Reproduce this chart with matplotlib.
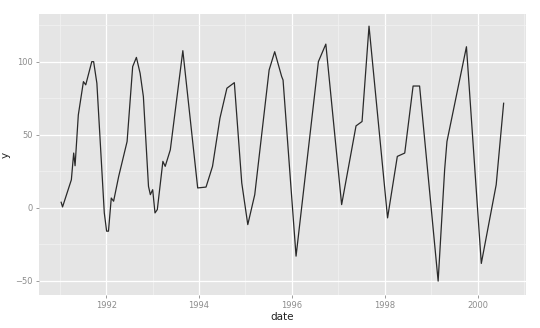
import matplotlib
matplotlib.use("Agg")
import matplotlib.pyplot as plt
import matplotlib.dates as mdates
import pandas as pd

# decimal years
years = [1991.03, 1991.06, 1991.25, 1991.30, 1991.33, 1991.40, 1991.51, 1991.56,
         1991.69, 1991.73, 1991.80, 1991.96, 1992.01, 1992.05, 1992.11, 1992.16,
         1992.27, 1992.45, 1992.57, 1992.65, 1992.73, 1992.80, 1992.91, 1992.95,
         1993.00, 1993.05, 1993.10, 1993.22, 1993.27, 1993.38, 1993.65, 1993.97,
         1994.15, 1994.29, 1994.45, 1994.60, 1994.76, 1994.92, 1995.05, 1995.20,
         1995.51, 1995.63, 1995.78, 1995.81, 1996.09, 1996.57, 1996.73, 1997.07,
         1997.38, 1997.51, 1997.66, 1998.06, 1998.27, 1998.43, 1998.61, 1998.75,
         1999.15, 1999.29, 1999.34, 1999.76, 2000.08, 2000.40, 2000.56]
y = [3.9, 0.7, 19.3, 37.6, 28.9, 63.7, 86.5, 84.3,
     100.2, 100.2, 85.4, -3.4, -15.9, -15.9, 6.8, 4.6,
     21.7, 45.5, 96.8, 103.1, 92.2, 76.3, 14.8, 9.1,
     12.5, -3.4, -1.1, 31.9, 28.5, 39.8, 107.7, 13.7,
     14.3, 28.5, 61.5, 82.0, 85.8, 17.1, -11.4, 9.1,
     94.5, 107.0, 90.0, 87.6, -33.0, 100.2, 112.2, 2.3,
     56.2, 59.2, 124.5, -6.8, 35.3, 37.6, 83.5, 83.5,
     -50.1, 26.2, 45.5, 110.4, -38.0, 15.9, 71.7]


def to_date(dy):
    yr = int(dy)
    start = pd.Timestamp(year=yr, month=1, day=1)
    end = pd.Timestamp(year=yr + 1, month=1, day=1)
    return start + (end - start) * (dy - yr)


dates = [to_date(v) for v in years]

fig = plt.figure(figsize=(5.4, 3.28), dpi=100)
ax = fig.add_axes([0.072, 0.100, 0.902, 0.857])
ax.set_facecolor("#E5E5E5")

ax.plot(dates, y, color="#2A2A2A", linewidth=0.9, zorder=3)

ax.set_xlim(to_date(1990.55), to_date(2001.04))
ax.set_ylim(-59.75, 132.75)

ax.xaxis.set_major_locator(mdates.YearLocator(2))
ax.xaxis.set_major_formatter(mdates.DateFormatter("%Y"))
ax.xaxis.set_minor_locator(mdates.YearLocator(1))
ax.set_yticks([-50, 0, 50, 100])
ax.set_yticks([-25, 25, 75, 125], minor=True)

ax.grid(which="major", color="white", linewidth=0.9, zorder=1)
ax.grid(which="minor", color="#F2F2F2", linewidth=0.5, zorder=0)
ax.set_axisbelow(True)

for s in ax.spines.values():
    s.set_visible(False)

ax.tick_params(which="major", length=2.5, width=0.6, color="#8C8C8C",
               labelsize=6, labelcolor="#8C8C8C", pad=2)
ax.tick_params(which="minor", length=0)

ax.set_xlabel("date", fontsize=7.5, labelpad=1, color="#222222")
ax.set_ylabel("y", fontsize=7.5, labelpad=3, color="#222222")

fig.savefig("out.png", dpi=100)
